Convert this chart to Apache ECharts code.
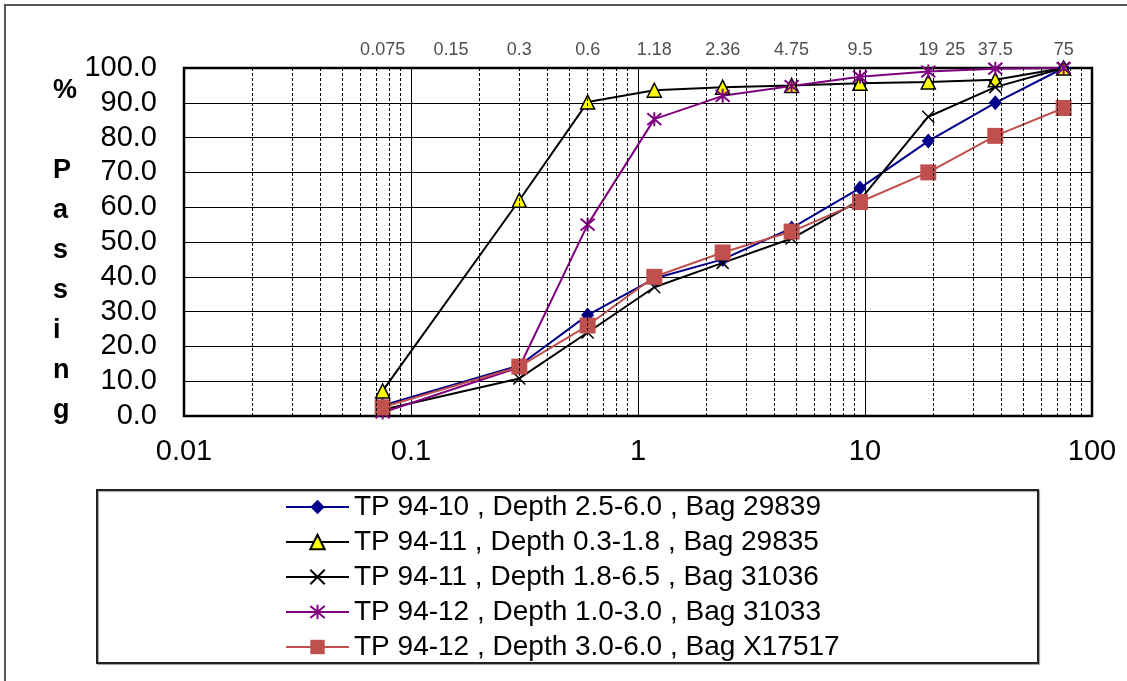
<!DOCTYPE html>
<html>
<head>
<meta charset="utf-8">
<script src="https://cdn.jsdelivr.net/npm/echarts@6/dist/echarts.min.js"></script>
<style>
  html, body { margin: 0; padding: 0; background: #fff; }
  #chart { width: 1127px; height: 681px; }
</style>
</head>
<body>
<div id="chart"></div>
<script>
// ---- data ----
var sieveSizes = [0.075, 0.3, 0.6, 1.18, 2.36, 4.75, 9.5, 19, 37.5, 75];
var seriesNames = [
  'TP 94-10 , Depth 2.5-6.0 , Bag 29839',
  'TP 94-11 , Depth 0.3-1.8 , Bag 29835',
  'TP 94-11 , Depth 1.8-6.5 , Bag 31036',
  'TP 94-12 , Depth 1.0-3.0 , Bag 31033',
  'TP 94-12 , Depth 3.0-6.0 , Bag X17517'
];
var tp9410_a = [3.0, 14.5, 29.0, 39.5, 45.0, 54.0, 65.5, 79.0, 90.0, 100.0];
var tp9411_a = [7.2, 62.0, 90.2, 93.6, 94.5, 95.0, 95.6, 96.0, 96.6, 100.0];
var tp9411_b = [1.8, 10.8, 24.0, 37.0, 44.0, 51.0, 62.0, 86.0, 94.5, 100.0];
var tp9412_a = [1.0, 14.0, 55.0, 85.3, 92.0, 94.8, 97.5, 99.0, 99.8, 100.0];
var tp9412_b = [2.5, 14.2, 26.0, 40.0, 47.0, 53.0, 61.5, 70.0, 80.5, 88.5];
var topLabelValues = [0.075, 0.15, 0.3, 0.6, 1.18, 2.36, 4.75, 9.5, 19, 25, 37.5, 75];

// minor log gridlines (2..9 in each decade)
var decades = [0.01, 0.1, 1, 10];
var minorGrid = [];
decades.forEach(function (d) {
  for (var k = 2; k <= 9; k++) minorGrid.push(+(k * d).toPrecision(6));
});

function pairs(ys) {
  return sieveSizes.map(function (x, i) { return [x, ys[i]]; });
}

var FONT = "'Liberation Sans', Arial, sans-serif";
var xPath = 'path://M0,0L10,10M10,0L0,10';
var starPath = 'path://M0,0L10,10M10,0L0,10M5,-1L5,11';

var chart = echarts.init(document.getElementById('chart'), null, { renderer: 'canvas' });

var option = {
  animation: false,
  backgroundColor: '#fff',
  textStyle: { fontFamily: FONT },
  grid: {
    left: 184, right: 35, top: 68, bottom: 265,
    show: true, borderColor: '#000', borderWidth: 2.5, backgroundColor: 'transparent'
  },
  xAxis: {
    type: 'log', logBase: 10, min: 0.01, max: 100,
    axisLine: { show: false },
    axisTick: { show: false },
    axisLabel: {
      fontSize: 29, color: '#000', fontFamily: FONT, margin: 21,
      formatter: function (v) { return String(+v.toPrecision(6)); }
    },
    splitLine: { show: true, lineStyle: { color: '#000', width: 1 } },
    minorTick: { show: false },
    minorSplitLine: { show: false }
  },
  yAxis: {
    type: 'value', min: 0, max: 100, interval: 10,
    axisLine: { show: false },
    axisTick: { show: false },
    axisLabel: {
      fontSize: 29, color: '#000', fontFamily: FONT, margin: 27,
      formatter: function (v) { return v.toFixed(1); }
    },
    splitLine: { show: true, lineStyle: { color: '#000', width: 1 } }
  },
  legend: {
    orient: 'vertical',
    left: 285, top: 493,
    padding: 0,
    itemWidth: 63, itemHeight: 18, itemGap: 7,
    textStyle: { fontSize: 28, lineHeight: 28, color: '#000', fontFamily: FONT, padding: [0, 0, 0, 0] },
    data: seriesNames
  },
  graphic: [
    { type: 'rect', shape: { x: 5, y: 5, width: 1135, height: 690 },
      style: { fill: 'none', stroke: '#555', lineWidth: 2 }, z: -10 },
    { type: 'rect', shape: { x: 97, y: 490, width: 941, height: 173 },
      style: { fill: '#fff', stroke: '#222', lineWidth: 2, shadowColor: 'rgba(0,0,0,0.35)', shadowOffsetX: 1, shadowOffsetY: 1, shadowBlur: 1 }, z: -5 },
    { type: 'text', left: 53, top: 71,
      style: { text: '%\n\nP\na\ns\ns\ni\nn\ng', font: 'bold 27px ' + FONT, lineHeight: 40, fill: '#000', align: 'center', width: 32 } }
  ],
  series: [
    {
      name: 'sieveLabels', type: 'scatter', data: topLabelValues.map(function (v) { return [v, 100]; }),
      symbolSize: 0, silent: true, z: 1,
      label: {
        show: true, position: 'top', distance: 9, fontSize: 18, color: '#222', fontFamily: FONT,
        formatter: function (p) { return String(p.value[0]); }
      },
      markLine: {
        silent: true, symbol: ['none', 'none'], animation: false,
        label: { show: false },
        lineStyle: { color: '#000', width: 1, type: [3, 2] },
        emphasis: { disabled: true },
        data: minorGrid.map(function (v) { return { xAxis: v }; })
      }
    },
    {
      name: seriesNames[0], type: 'line', data: pairs(tp9410_a),
      symbol: 'diamond', symbolSize: [13, 15],
      itemStyle: { color: '#00008B' },
      lineStyle: { color: '#00008B', width: 2 }
    },
    {
      name: seriesNames[1], type: 'line', data: pairs(tp9411_a),
      symbol: 'triangle', symbolSize: 14,
      itemStyle: { color: '#FFFF00', borderColor: '#000', borderWidth: 1.5 },
      lineStyle: { color: '#000', width: 2 }
    },
    {
      name: seriesNames[2], type: 'line', data: pairs(tp9411_b),
      symbol: xPath, symbolSize: 12,
      itemStyle: { color: 'rgba(0,0,0,0)', borderColor: '#000', borderWidth: 1.5 },
      lineStyle: { color: '#000', width: 2 }
    },
    {
      name: seriesNames[3], type: 'line', data: pairs(tp9412_a),
      symbol: starPath, symbolSize: 14,
      itemStyle: { color: 'rgba(0,0,0,0)', borderColor: '#800080', borderWidth: 2 },
      lineStyle: { color: '#800080', width: 2 }
    },
    {
      name: seriesNames[4], type: 'line', data: pairs(tp9412_b),
      symbol: 'rect', symbolSize: 16,
      itemStyle: { color: '#C0504D' },
      lineStyle: { color: '#C0504D', width: 2 }
    }
  ]
};
chart.setOption(option);
</script>
</body>
</html>
